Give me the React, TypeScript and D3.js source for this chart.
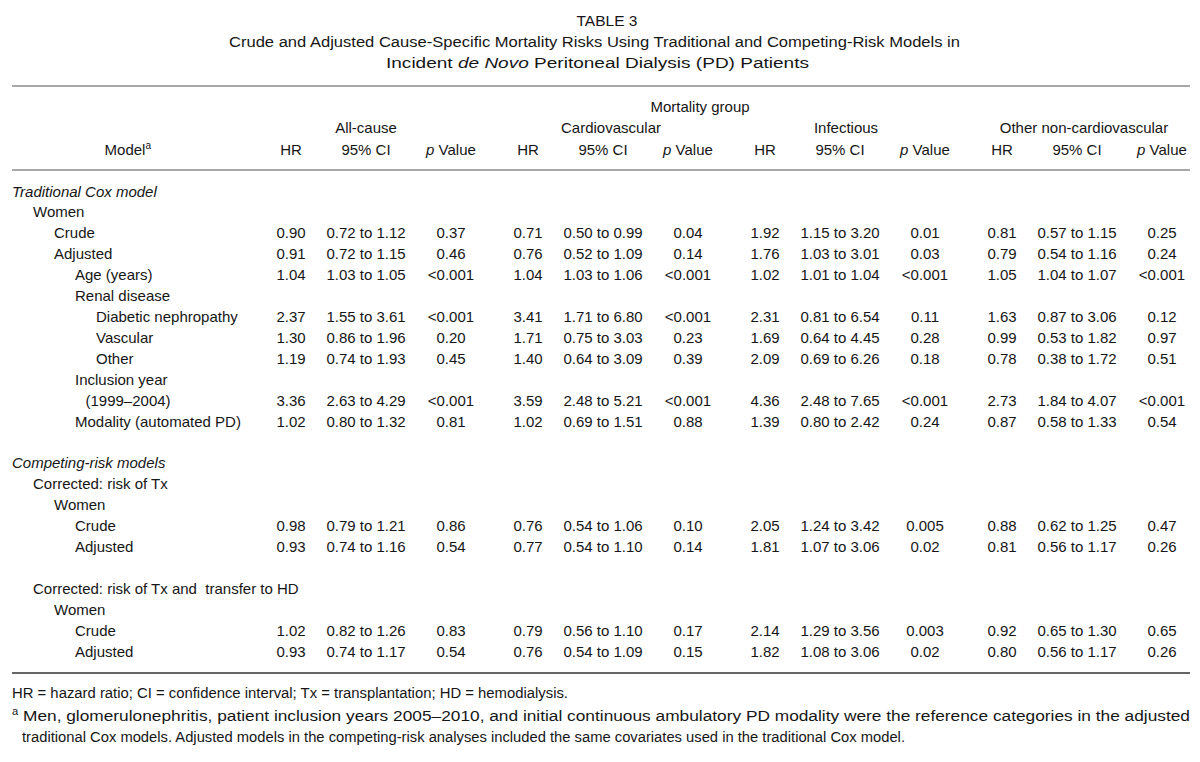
import React from "react";
import * as d3 from "d3";

const titleLines = [
  "TABLE 3",
  "Crude and Adjusted Cause-Specific Mortality Risks Using Traditional and Competing-Risk Models in",
];
const spanner = "Mortality group";
const groups = ["All-cause", "Cardiovascular", "Infectious", "Other non-cardiovascular"];
const subHeads = ["HR", "95% CI", "p Value"];

const rowLabels = [
  "Traditional Cox model", "Women", "Crude", "Adjusted", "Age (years)", "Renal disease",
  "Diabetic nephropathy", "Vascular", "Other", "Inclusion year", "(1999–2004)",
  "Modality (automated PD)", "", "Competing-risk models", "Corrected: risk of Tx", "Women",
  "Crude", "Adjusted", "", "Corrected: risk of Tx and  transfer to HD", "Women", "Crude", "Adjusted",
];
const rowIndent = [0, 1, 2, 2, 3, 3, 4, 4, 4, 3, 3.5, 3, 0, 0, 1, 2, 3, 3, 0, 1, 2, 3, 3];
const rowItalic = [0, 13];

// rows (by index in rowLabels) that carry numbers
const dataRows = [2, 3, 4, 6, 7, 8, 10, 11, 16, 17, 21, 22];

const allCause = [
  ["0.90", "0.72 to 1.12", "0.37"], ["0.91", "0.72 to 1.15", "0.46"], ["1.04", "1.03 to 1.05", "<0.001"],
  ["2.37", "1.55 to 3.61", "<0.001"], ["1.30", "0.86 to 1.96", "0.20"], ["1.19", "0.74 to 1.93", "0.45"],
  ["3.36", "2.63 to 4.29", "<0.001"], ["1.02", "0.80 to 1.32", "0.81"], ["0.98", "0.79 to 1.21", "0.86"],
  ["0.93", "0.74 to 1.16", "0.54"], ["1.02", "0.82 to 1.26", "0.83"], ["0.93", "0.74 to 1.17", "0.54"],
];
const cardiovascular = [
  ["0.71", "0.50 to 0.99", "0.04"], ["0.76", "0.52 to 1.09", "0.14"], ["1.04", "1.03 to 1.06", "<0.001"],
  ["3.41", "1.71 to 6.80", "<0.001"], ["1.71", "0.75 to 3.03", "0.23"], ["1.40", "0.64 to 3.09", "0.39"],
  ["3.59", "2.48 to 5.21", "<0.001"], ["1.02", "0.69 to 1.51", "0.88"], ["0.76", "0.54 to 1.06", "0.10"],
  ["0.77", "0.54 to 1.10", "0.14"], ["0.79", "0.56 to 1.10", "0.17"], ["0.76", "0.54 to 1.09", "0.15"],
];
const infectious = [
  ["1.92", "1.15 to 3.20", "0.01"], ["1.76", "1.03 to 3.01", "0.03"], ["1.02", "1.01 to 1.04", "<0.001"],
  ["2.31", "0.81 to 6.54", "0.11"], ["1.69", "0.64 to 4.45", "0.28"], ["2.09", "0.69 to 6.26", "0.18"],
  ["4.36", "2.48 to 7.65", "<0.001"], ["1.39", "0.80 to 2.42", "0.24"], ["2.05", "1.24 to 3.42", "0.005"],
  ["1.81", "1.07 to 3.06", "0.02"], ["2.14", "1.29 to 3.56", "0.003"], ["1.82", "1.08 to 3.06", "0.02"],
];
const otherNonCv = [
  ["0.81", "0.57 to 1.15", "0.25"], ["0.79", "0.54 to 1.16", "0.24"], ["1.05", "1.04 to 1.07", "<0.001"],
  ["1.63", "0.87 to 3.06", "0.12"], ["0.99", "0.53 to 1.82", "0.97"], ["0.78", "0.38 to 1.72", "0.51"],
  ["2.73", "1.84 to 4.07", "<0.001"], ["0.87", "0.58 to 1.33", "0.54"], ["0.88", "0.62 to 1.25", "0.47"],
  ["0.81", "0.56 to 1.17", "0.26"], ["0.92", "0.65 to 1.30", "0.65"], ["0.80", "0.56 to 1.17", "0.26"],
];
const groupValues = [allCause, cardiovascular, infectious, otherNonCv];

const footLine1 = "HR = hazard ratio; CI = confidence interval; Tx = transplantation; HD = hemodialysis.";
const footLine2 =
  " Men, glomerulonephritis, patient inclusion years 2005–2010, and initial continuous ambulatory PD modality were the reference categories in the adjusted";
const footLine3 =
  "traditional Cox models. Adjusted models in the competing-risk analyses included the same covariates used in the traditional Cox model.";

const W = 1200;
const H = 762;
const FONT = "'Liberation Sans', Arial, sans-serif";
const INK = "#161616";

export default function App() {
  const gx = d3.scaleBand<string>().domain(groups).range([254, 1202]);
  const sub = d3.scaleOrdinal<string, number>().domain(subHeads).range([37, 112, 197]);
  const groupLabelShift = [0, 8, 6, 7];
  const y = d3.scaleLinear().domain([0, rowLabels.length - 1]).range([191, 651]);
  const indentX = d3.scaleLinear().domain([0, 4]).range([12, 96]);
  const base = 5.5;

  return (
    <svg width={W} height={H} style={{ display: "block", position: "absolute", left: 0, top: 0, background: "#fff" }}
      fontFamily={FONT} fill={INK}>
      <rect x={0} y={0} width={W} height={H} fill="#fff" />
      {/* Title */}
      <text x={607} y={26} textAnchor="middle" fontSize={15.5}>{titleLines[0]}</text>
      <text x={594.5} y={47} textAnchor="middle" fontSize={15.5} textLength={731} lengthAdjust="spacingAndGlyphs">
        {titleLines[1]}
      </text>
      <text x={597.5} y={68} textAnchor="middle" fontSize={15.5} textLength={423} lengthAdjust="spacingAndGlyphs">
        Incident <tspan fontStyle="italic">de Novo</tspan> Peritoneal Dialysis (PD) Patients
      </text>

      {/* Rules */}
      <line x1={12} x2={1190} y1={86} y2={86} stroke="#8c8c8c" strokeWidth={1.6} />
      <line x1={12} x2={1190} y1={170} y2={170} stroke="#8c8c8c" strokeWidth={1.6} />
      <line x1={12} x2={1190} y1={673} y2={673} stroke="#333" strokeWidth={1.6} />

      {/* Header */}
      <text x={700} y={112} textAnchor="middle" fontSize={15}>{spanner}</text>
      {groups.map((g, i) => (
        <text key={g} x={(gx(g) as number) + sub("95% CI") + groupLabelShift[i]} y={133} textAnchor="middle" fontSize={15}>
          {g}
        </text>
      ))}
      <text x={151} y={155} textAnchor="end" fontSize={15}>
        Model<tspan fontSize={10} dy={-6}>a</tspan>
      </text>
      {groups.map((g) =>
        subHeads.map((s) => (
          <text key={g + s} x={(gx(g) as number) + sub(s)} y={155} textAnchor="middle" fontSize={15}>
            {s === "p Value" ? (
              <>
                <tspan fontStyle="italic">p</tspan> Value
              </>
            ) : (
              s
            )}
          </text>
        ))
      )}

      {/* Row labels */}
      {rowLabels.map((lab, i) =>
        lab ? (
          <text key={"l" + i} x={indentX(rowIndent[i])} y={y(i) + base} fontSize={15}
            fontStyle={rowItalic.includes(i) ? "italic" : "normal"} xmlSpace="preserve" style={{ whiteSpace: "pre" }}>
            {lab}
          </text>
        ) : null
      )}

      {/* Values */}
      {groups.map((g, gi) =>
        groupValues[gi].map((vals, ri) =>
          vals.map((v, ci) => (
            <text key={g + ri + "-" + ci} x={(gx(g) as number) + sub(subHeads[ci])} y={y(dataRows[ri]) + base}
              textAnchor="middle" fontSize={15}>
              {v}
            </text>
          ))
        )
      )}

      {/* Footnotes */}
      <text x={12} y={698} fontSize={15.5} textLength={556} lengthAdjust="spacingAndGlyphs">{footLine1}</text>
      <text x={12} y={721} fontSize={15.5} textLength={1178} lengthAdjust="spacingAndGlyphs">
        <tspan fontSize={10} dy={-6}>a</tspan>
        <tspan dy={6}>{footLine2}</tspan>
      </text>
      <text x={22} y={742} fontSize={15.5} textLength={883} lengthAdjust="spacingAndGlyphs">{footLine3}</text>
    </svg>
  );
}
